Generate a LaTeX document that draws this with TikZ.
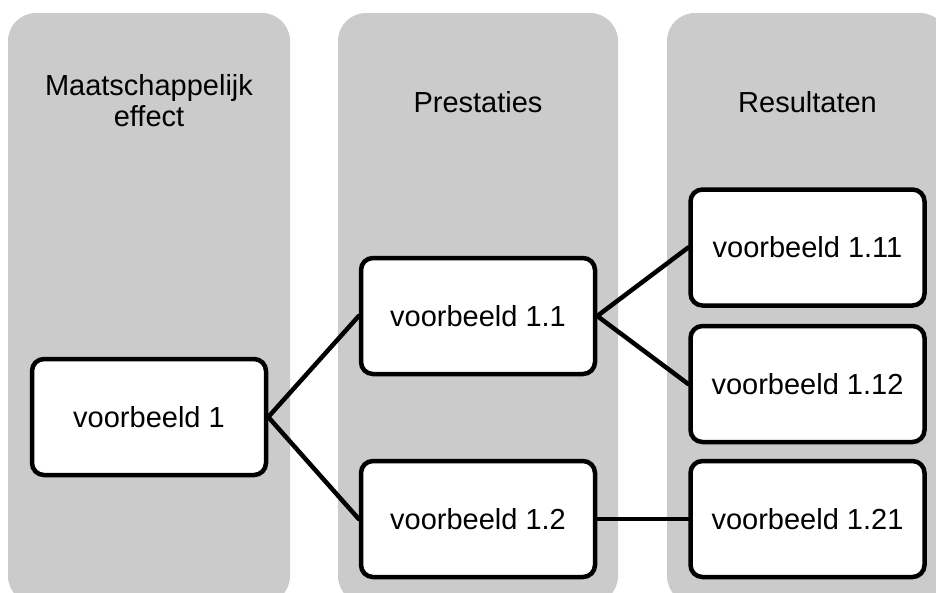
\documentclass[tikz,border=0pt]{standalone}
\usepackage{fontspec}
\setmainfont{Liberation Sans}
\definecolor{panelgray}{RGB}{203,203,203}
\begin{document}
\begin{tikzpicture}[x=1pt,y=-1pt,
  panel/.style={fill=panelgray, rounded corners=28pt},
  item/.style={draw=black, line width=4.5pt, fill=white, rounded corners=12pt,
    minimum width=234pt, minimum height=116pt, inner sep=0pt,
    font=\fontsize{29}{30}\selectfont},
  coltitle/.style={align=center, inner sep=0pt, font=\fontsize{29}{31}\selectfont},
  link/.style={line width=4.5pt, line cap=round}]
  \useasboundingbox (0,0) rectangle (936,592);
  \clip (0,0) rectangle (936,592);

  % column backgrounds
  \fill[panel] (8,13) rectangle (290,604);
  \fill[panel] (338,13) rectangle (618,604);
  \fill[panel] (667,13) rectangle (948,604);

  % column headings
  \node[coltitle] (t1) at (149,100.5) {Maatschappelijk\\effect};
  \node[coltitle, anchor=base] (t2) at (478,112) {Prestaties};
  \node[coltitle, anchor=base] (t3) at (807.5,112) {Resultaten};

  % boxes
  \node[item] (v1)   at (149,417)   {voorbeeld 1};
  \node[item] (v11)  at (478,316)   {voorbeeld 1.1};
  \node[item] (v12)  at (478,519)   {voorbeeld 1.2};
  \node[item] (v111) at (807.5,247.5) {voorbeeld 1.11};
  \node[item] (v112) at (807.5,384) {voorbeeld 1.12};
  \node[item] (v121) at (807.5,519) {voorbeeld 1.21};

  % connectors
  \draw[link] (v1.east) -- (v11.west);
  \draw[link] (v1.east) -- (v12.west);
  \draw[link] (v11.east) -- (v111.west);
  \draw[link] (v11.east) -- (v112.west);
  \draw[link] (v12.east) -- (v121.west);
\end{tikzpicture}
\end{document}
